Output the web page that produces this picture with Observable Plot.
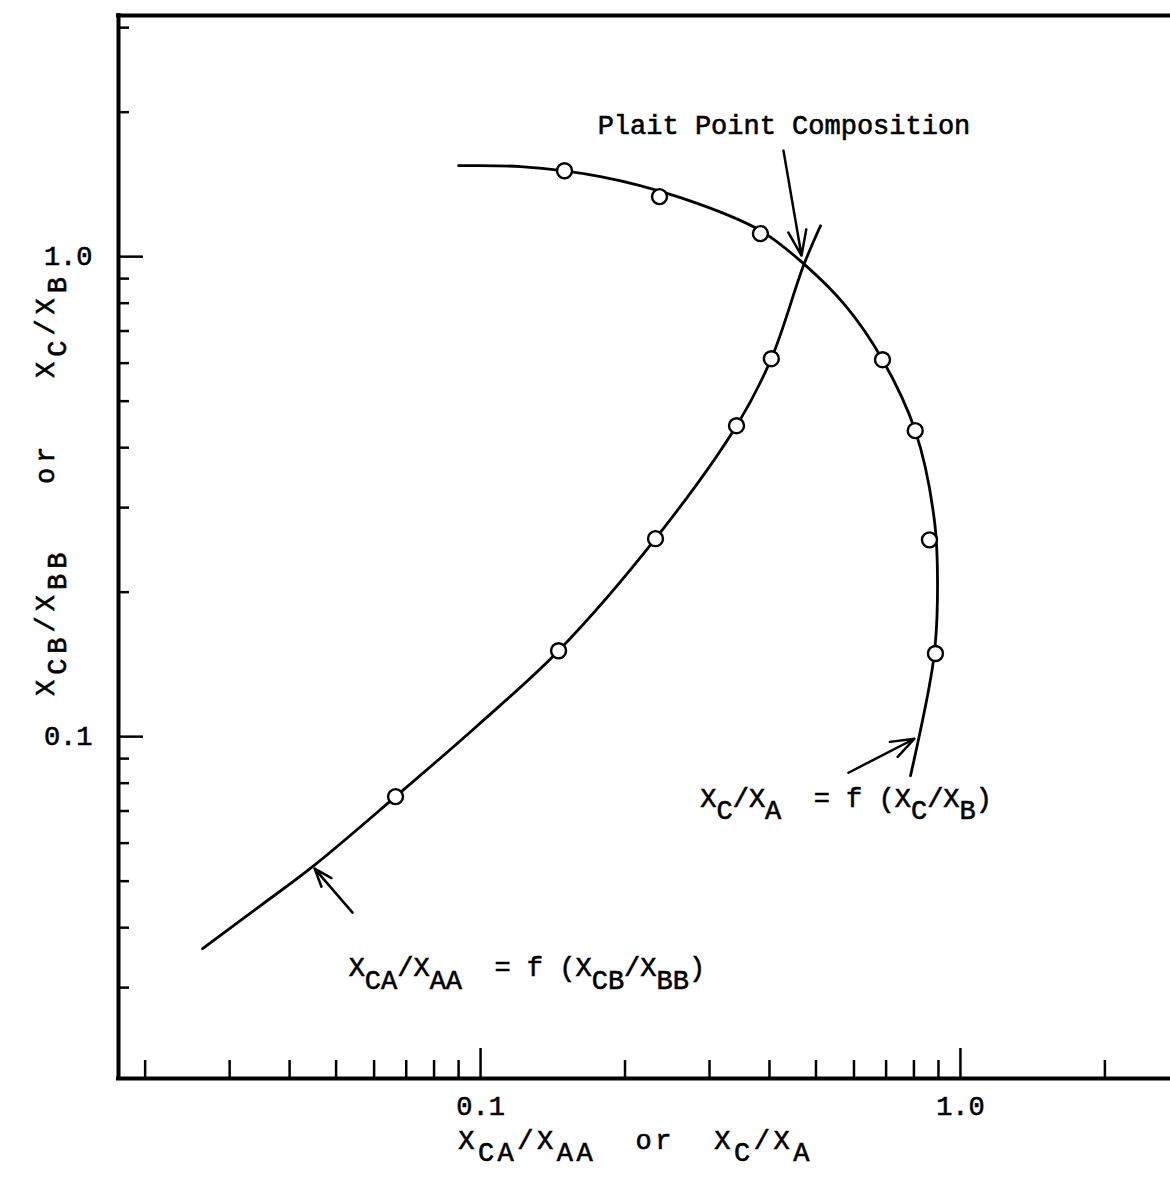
<!DOCTYPE html>
<html><head><meta charset="utf-8">
<script src="https://cdn.jsdelivr.net/npm/d3@7"></script>
<script src="https://cdn.jsdelivr.net/npm/@observablehq/plot@0.6"></script>
<style>
html,body{margin:0;padding:0;background:#fff;}
svg text{white-space:pre;stroke:#000;stroke-width:0.6px;}
</style></head><body><div id="chart"></div>
<script>
// ---- axes ----
const xDomain = [0.0176, 2.74];
const yDomain = [0.0194, 3.18];
const xMajorTicks = [0.1, 1.0];
const xMinorTicks = [0.02,0.03,0.04,0.05,0.06,0.07,0.08,0.09,0.2,0.3,0.4,0.5,0.6,0.7,0.8,0.9,2.0];
const yMajorTicks = [0.1, 1.0];
const yMinorTicks = [0.03,0.04,0.05,0.06,0.07,0.08,0.09,0.2,0.3,0.4,0.5,0.6,0.7,0.8,0.9,2.0,3.0];
const xAxisTitle = "X_{CA}/X_{AA}  or  X_{C}/X_{A}";
const yAxisTitle = "X_{CB}/X_{BB}   or   X_{C}/X_{B}";

// ---- curve X_CA/X_AA = f(X_CB/X_BB) (traced line) ----
const tieCurveX = [0.02635, 0.0348, 0.04487, 0.0665, 0.0990, 0.1454, 0.2315, 0.3415, 0.4036, 0.471, 0.511];
const tieCurveY = [0.03617, 0.04446, 0.0538, 0.0750, 0.1059, 0.151, 0.2585, 0.4445, 0.613, 0.958, 1.16];
// measured points
const tiePointsX = [0.0665, 0.1454, 0.2315, 0.3415, 0.4036];
const tiePointsY = [0.075, 0.151, 0.2585, 0.4445, 0.613];

// ---- curve X_C/X_A = f(X_C/X_B) (traced line) ----
const arcCurveX = [0.090, 0.1212, 0.1778, 0.2610, 0.3831, 0.471, 0.5759, 0.688, 0.805, 0.8827, 0.8954, 0.8785, 0.787];
const arcCurveY = [1.547, 1.540, 1.468, 1.327, 1.133, 0.967, 0.7905, 0.610, 0.434, 0.2818, 0.192, 0.144, 0.0829];
// measured points
const arcPointsX = [0.1496, 0.236, 0.383, 0.688, 0.805, 0.862, 0.887];
const arcPointsY = [1.51, 1.334, 1.117, 0.610, 0.434, 0.257, 0.149];

// ---- annotations ----
const noteText = ["Plait Point Composition", "X_{C}/X_{A}  = f (X_{C}/X_{B})", "X_{CA}/X_{AA}  = f (X_{CB}/X_{BB})"];
const noteX = [0.1754, 0.2870, 0.0531];
const noteY = [1.875, 0.0745, 0.0330];
const arrowX1 = [0.4278, 0.5843, 0.0541];
const arrowY1 = [1.663, 0.0841, 0.0430];
const arrowX2 = [0.4665, 0.8020, 0.0451];
const arrowY2 = [1.005, 0.0990, 0.0531];

// ---- build tables ----
const tieCurve = tieCurveX.map((x, i) => ({x, y: tieCurveY[i]}));
const tiePoints = tiePointsX.map((x, i) => ({x, y: tiePointsY[i]}));
const arcCurve = arcCurveX.map((x, i) => ({x, y: arcCurveY[i]}));
const arcPoints = arcPointsX.map((x, i) => ({x, y: arcPointsY[i]}));
const notes = noteText.map((t, i) => ({t, x: noteX[i], y: noteY[i]}));
const arrows = arrowX1.map((x1, i) => ({x1, y1: arrowY1[i], x2: arrowX2[i], y2: arrowY2[i]}));

const W = 1170, H = 1184, mL = 118, mR = 0, mT = 15, mB = 106;
const innerW = W - mL - mR, innerH = H - mT - mB;
const font = "Liberation Mono, Courier New, monospace";
const fs = 27;

const chart = Plot.plot({
  width: W, height: H,
  marginLeft: mL, marginRight: mR, marginTop: mT, marginBottom: mB,
  x: {type: "log", domain: xDomain},
  y: {type: "log", domain: yDomain},
  style: {fontFamily: font, fontSize: fs + "px", background: "#fff", color: "#000"},
  marks: [
    Plot.axisX({ticks: xMajorTicks, tickSize: 0, tickPadding: 17, tickFormat: d3.format(".1f"), label: null}),
    Plot.axisY({ticks: yMajorTicks, tickSize: 0, tickPadding: 26, tickFormat: d3.format(".1f"), label: null}),
    Plot.tickX(xMinorTicks, {x: d => d, insetTop: innerH - 18, strokeWidth: 2.5}),
    Plot.tickX(xMajorTicks, {x: d => d, insetTop: innerH - 30, strokeWidth: 2.5}),
    Plot.tickY(yMinorTicks, {y: d => d, insetRight: innerW - 11, strokeWidth: 2.5}),
    Plot.tickY(yMajorTicks, {y: d => d, insetRight: innerW - 25, strokeWidth: 2.5}),
    Plot.ruleX([xDomain[0]], {strokeWidth: 4, strokeLinecap: "square"}),
    Plot.ruleY(yDomain, {strokeWidth: 4, strokeLinecap: "square"}),
    Plot.line(tieCurve, {x: "x", y: "y", curve: "catmull-rom", strokeWidth: 2.8}),
    Plot.line(arcCurve, {x: "x", y: "y", curve: "catmull-rom", strokeWidth: 2.8}),
    Plot.dot(tiePoints, {x: "x", y: "y", r: 7.5, fill: "white", stroke: "black", strokeWidth: 2.4}),
    Plot.dot(arcPoints, {x: "x", y: "y", r: 7.5, fill: "white", stroke: "black", strokeWidth: 2.4}),
    Plot.arrow(arrows, {x1: "x1", y1: "y1", x2: "x2", y2: "y2", strokeWidth: 2.5, headLength: 16, headAngle: 40}),
    Plot.text(notes, {x: "x", y: "y", text: "t", textAnchor: "start", lineAnchor: "middle", fontSize: fs, fontFamily: font}),
    Plot.text([xAxisTitle], {frameAnchor: "bottom", text: d => d, textAnchor: "middle", dx: -9, dy: 62, lineAnchor: "middle", fontSize: fs, fontFamily: font}),
    Plot.text([yAxisTitle], {frameAnchor: "left", text: d => d, textAnchor: "middle", rotate: -90, dx: -73, dy: -63, lineAnchor: "middle", fontSize: fs, fontFamily: font})
  ]
});

// typewriter-style subscripts: "_{..}" -> lowered tspans; wider spacing on axis titles
chart.querySelectorAll("text").forEach(t => {
  if (t.children.length || !t.textContent.includes("_{")) return;
  const s = t.textContent;
  if (s === xAxisTitle) t.style.letterSpacing = "3.5px";
  if (s === yAxisTitle) t.style.letterSpacing = "5px";
  t.textContent = "";
  const parts = s.split(/(_\{[^}]*\})/).filter(p => p.length);
  let lowered = false;
  for (const p of parts) {
    const ts = document.createElementNS("http://www.w3.org/2000/svg", "tspan");
    const isSub = p.startsWith("_{");
    const txt = isSub ? p.slice(2, -1) : p;
    if (isSub && !lowered) { ts.setAttribute("dy", "0.45em"); lowered = true; }
    else if (!isSub && lowered) { ts.setAttribute("dy", "-0.45em"); lowered = false; }
    ts.textContent = txt;
    t.appendChild(ts);
  }
});

document.getElementById("chart").appendChild(chart);
</script></body></html>
